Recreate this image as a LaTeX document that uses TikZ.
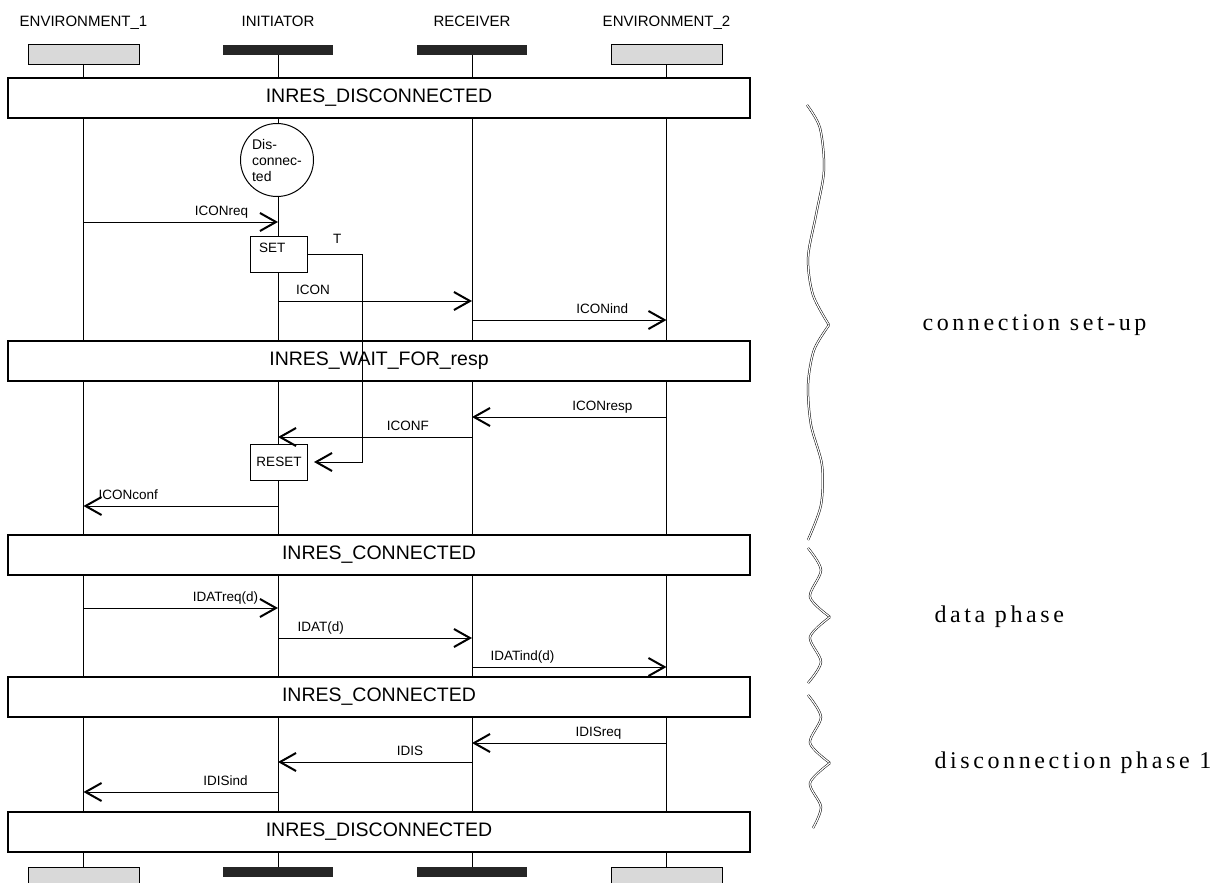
\documentclass[tikz,border=0pt]{standalone}
\usepackage{fontspec}
\usetikzlibrary{arrows.meta,positioning}
\newfontfamily\plotfont{Liberation Sans}
\newfontfamily\phasefont{Liberation Serif}[LetterSpace=15]

\begin{document}
\begin{tikzpicture}[x=1pt,y=-1pt,
  envbox/.style={draw,line width=1pt,fill=gray!30,minimum width=111pt,minimum height=20pt,inner sep=0pt},
  procbar/.style={fill=black!85,minimum width=110pt,minimum height=10pt,inner sep=0pt},
  hdr/.style={font=\plotfont\fontsize{15}{18}\selectfont,inner sep=0pt,text depth=3pt},
  life/.style={line width=0.8pt},
  statebox/.style={draw,line width=1.2pt,fill=white,minimum width=742pt,minimum height=40pt,
    font=\plotfont\fontsize{19.5}{22}\selectfont},
  msg/.style={line width=0.9pt,-{Straight Barb[length=16pt,width=18pt,line width=2pt]}},
  lbl/.style={above,font=\plotfont\fontsize{13.5}{16}\selectfont,text height=10pt,text depth=3pt},
  actbox/.style={draw,line width=1pt,fill=white,minimum width=57pt,minimum height=36pt,
    font=\plotfont\fontsize{13.5}{16}\selectfont},
  brace/.style={double,double distance=1.2pt,line width=0.5pt},
  phase/.style={font=\phasefont\fontsize{24}{28}\selectfont,anchor=west}]
\useasboundingbox (0,0) rectangle (1231,883);

\node[envbox] (env1) at (83.5,55) {};
\node[procbar] (ini) at (278,50) {};
\node[procbar] (rcv) at (472,50) {};
\node[envbox] (env2) at (666.5,55) {};
\node[hdr,above=15pt of env1.north] {ENVIRONMENT\_1};
\node[hdr,above=15pt of ini.north] {INITIATOR};
\node[hdr,above=15pt of rcv.north] {RECEIVER};
\node[hdr,above=15pt of env2.north] {ENVIRONMENT\_2};
\node[envbox] (env1b) at (83.5,877) {};
\node[procbar] (inib) at (278,872) {};
\node[procbar] (rcvb) at (472,872) {};
\node[envbox] (env2b) at (666.5,877) {};

\draw[life] (env1) -- (env1b);
\draw[life] (ini) -- (inib);
\draw[life] (rcv) -- (rcvb);
\draw[life] (env2) -- (env2b);

\node[statebox] (s1) at (379,98) {INRES\_DISCONNECTED};
\node[statebox] (s2) at (379,361) {INRES\_WAIT\_FOR\_resp};
\node[statebox] (s3) at (379,555) {INRES\_CONNECTED};
\node[statebox] (s4) at (379,697) {INRES\_CONNECTED};
\node[statebox] (s5) at (379,832) {INRES\_DISCONNECTED};

\node[draw,circle,line width=1pt,fill=white,minimum size=73pt,inner sep=0pt,align=left,
  font=\plotfont\fontsize{14}{16}\selectfont] (disc) at (277,160) {Dis-\\connec-\\ted};
\node[actbox,label={[anchor=north west,inner sep=0pt,xshift=9pt,yshift=-7pt,
  font=\plotfont\fontsize{13.5}{16}\selectfont]north west:SET}] (set) at (279,254) {};
\node[actbox] (reset) at (279,462) {RESET};

\coordinate (r1) at (0,222);
\coordinate (r2) at (0,301);
\coordinate (r3) at (0,320);
\coordinate (r4) at (0,417);
\coordinate (r5) at (0,437);
\coordinate (r6) at (0,506);
\coordinate (r7) at (0,608);
\coordinate (r8) at (0,638);
\coordinate (r9) at (0,667);
\coordinate (r10) at (0,743);
\coordinate (r11) at (0,762);
\coordinate (r12) at (0,792);
\coordinate (tmr) at (362,462);

\draw[msg] (set.east) -| node[lbl,pos=.27,yshift=4pt]{T} (tmr) -- ([xshift=6pt]reset.east);

\draw[msg] (env1 |- r1) -- node[lbl,pos=.71]{ICONreq} (ini |- r1);
\draw[msg] (ini |- r2) -- node[lbl,pos=.18]{ICON} (rcv |- r2);
\draw[msg] (rcv |- r3) -- node[lbl,pos=.67]{ICONind} (env2 |- r3);
\draw[msg] (env2 |- r4) -- node[lbl,pos=.33]{ICONresp} (rcv |- r4);
\draw[msg] (rcv |- r5) -- node[lbl,pos=.33]{ICONF} (ini |- r5);
\draw[msg] (ini |- r6) -- node[lbl,pos=.77]{ICONconf} (env1 |- r6);
\draw[msg] (env1 |- r7) -- node[lbl,pos=.73]{IDATreq(d)} (ini |- r7);
\draw[msg] (ini |- r8) -- node[lbl,pos=.22]{IDAT(d)} (rcv |- r8);
\draw[msg] (rcv |- r9) -- node[lbl,pos=.26]{IDATind(d)} (env2 |- r9);
\draw[msg] (env2 |- r10) -- node[lbl,pos=.35]{IDISreq} (rcv |- r10);
\draw[msg] (rcv |- r11) -- node[lbl,pos=.32]{IDIS} (ini |- r11);
\draw[msg] (ini |- r12) -- node[lbl,pos=.27]{IDISind} (env1 |- r12);

\coordinate (tipA) at (829,325);
\coordinate (tipB) at (830,617);
\coordinate (tipC) at (830,763);
\draw[brace] plot[smooth] coordinates {(807,105) (820,128) (824,170) (816,215) (808,258) (813,295) (tipA)};
\draw[brace] plot[smooth] coordinates {(tipA) (814,350) (808,385) (811,425) (822,465) (821,505) (808,540)};
\draw[brace] plot[smooth] coordinates {(808,548) (821,570) (810,597) (tipB)};
\draw[brace] plot[smooth] coordinates {(tipB) (810,637) (821,662) (808,683)};
\draw[brace] plot[smooth] coordinates {(808,695) (821,717) (810,743) (tipC)};
\draw[brace] plot[smooth] coordinates {(tipC) (810,783) (821,807) (813,828)};
\node[phase,right=90pt of tipA] {connection set-up};
\node[phase,right=101pt of tipB] {data phase};
\node[phase,right=101pt of tipC] {disconnection phase 1};
\end{tikzpicture}
\end{document}
